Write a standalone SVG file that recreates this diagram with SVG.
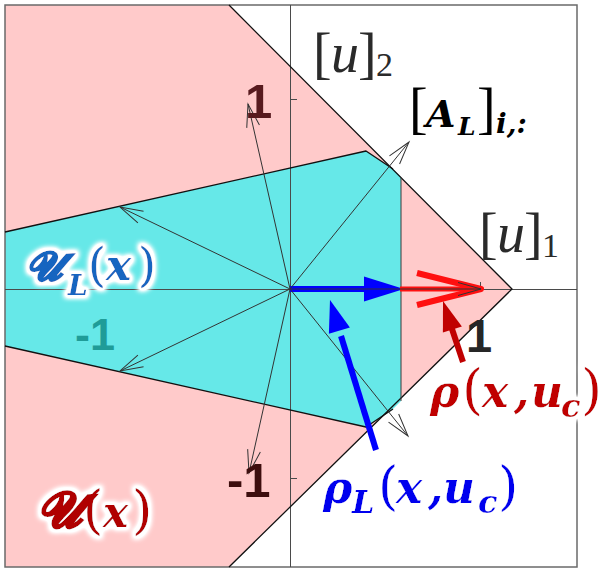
<svg xmlns="http://www.w3.org/2000/svg" width="603" height="574" viewBox="0 0 603 574">
<defs>
<style>
.thin{stroke:#333;stroke-width:1;fill:none}
.edge{stroke:#111;stroke-width:1.3;fill:none;stroke-linejoin:round}
.ax{stroke:#4a4a4a;stroke-width:1;fill:none}
.tick{font-family:"Liberation Sans",Arial,sans-serif;font-weight:bold}
.math{font-family:"DejaVu Serif","Liberation Serif",serif;font-weight:bold;font-style:italic}
.up{font-style:normal;font-weight:normal}
.cm{font-family:"Liberation Serif","DejaVu Serif",serif}
</style>
<marker id="open" markerUnits="userSpaceOnUse" markerWidth="30" markerHeight="20" viewBox="-26 -10 30 20" refX="0" refY="0" orient="auto">
<path d="M-23,-6.5 L0,0 L-23,6.5" fill="none" stroke="#333" stroke-width="1"/>
</marker>
<filter id="glow" x="-20%" y="-40%" width="140%" height="180%">
<feMorphology in="SourceAlpha" operator="dilate" radius="2.5" result="d"/>
<feGaussianBlur in="d" stdDeviation="2.5" result="b"/>
<feComponentTransfer in="b" result="b2"><feFuncA type="linear" slope="1.8"/></feComponentTransfer>
<feFlood flood-color="#ffffff"/>
<feComposite in2="b2" operator="in" result="w"/>
<feMerge><feMergeNode in="w"/><feMergeNode in="SourceGraphic"/></feMerge>
</filter>
</defs>
<rect x="0" y="0" width="603" height="574" fill="#fff"/>
<g id="region-U">
<polygon points="5,5 229,5 512,289 229,567 5,567" fill="#ffcaca"/>
</g>
<g id="region-UL">
<polygon points="5,232 366,151 393,169 401,177 401,401 393,409 366,427 5,346" fill="#66e8e8"/>
</g>
<g id="axes">
<rect x="5" y="5" width="572" height="562" fill="none" stroke="#6a6a6a" stroke-width="1.5"/>
<line class="ax" x1="290.5" y1="5" x2="290.5" y2="567"/>
<line class="ax" x1="5" y1="289.5" x2="577" y2="289.5"/>
<line class="ax" x1="290" y1="99.5" x2="297" y2="99.5"/>
<line class="ax" x1="290" y1="478.5" x2="297" y2="478.5"/>
<line class="ax" x1="100.5" y1="289" x2="100.5" y2="282"/>
<line class="ax" x1="480.5" y1="289" x2="480.5" y2="282"/>
</g>
<g id="edges">
<polyline class="edge" points="229,5 512,289 229,567"/>
<polyline class="edge" points="5,232 366,151 393,169"/>
<polyline class="edge" points="5,346 366,427 393,409"/>
<line x1="401" y1="177" x2="401" y2="401" stroke="#3a3a3a" stroke-width="1"/>
</g>
<g id="connectors">
<g id="thick-arrows">
<line x1="290" y1="289" x2="368" y2="289" stroke="#0000ff" stroke-width="6"/>
<polygon points="404,289 364,276.5 364,301.5" fill="#0000ff"/>
<line x1="400" y1="289" x2="478" y2="289" stroke="#ff1010" stroke-width="5"/>
<polyline points="417,273 481,289 417,305" fill="none" stroke="#ff1010" stroke-width="6" stroke-linejoin="round"/>
</g>
<g id="rows">
<line class="thin" x1="290" y1="289" x2="248" y2="104" marker-end="url(#open)"/>
<line class="thin" x1="290" y1="289" x2="409" y2="142" marker-end="url(#open)"/>
<line class="thin" x1="290" y1="289" x2="120" y2="207" marker-end="url(#open)"/>
<line class="thin" x1="290" y1="289" x2="481" y2="289" marker-end="url(#open)"/>
<line class="thin" x1="290" y1="289" x2="120" y2="371" marker-end="url(#open)"/>
<line class="thin" x1="290" y1="289" x2="249" y2="473" marker-end="url(#open)"/>
<line class="thin" x1="290" y1="289" x2="408" y2="436" marker-end="url(#open)"/>
</g>
<g id="pointer-rhoL">
<line x1="376" y1="450" x2="341" y2="336" stroke="#0000ff" stroke-width="6"/>
<polygon points="330,300 349.9,327.4 328.9,333.8" fill="#0000ff"/>
</g>
<g id="pointer-rho">
<line x1="463" y1="362" x2="451" y2="326" stroke="#c00000" stroke-width="6"/>
<polygon points="443,301 461.9,326.4 442.9,332.6" fill="#c00000"/>
</g>
</g>
<g id="tick-labels" class="tick">
<text x="245" y="118" font-size="49" fill="#581a1e">1</text>
<text x="227" y="497" font-size="49" fill="#3d0e0e">-1</text>
<text x="75" y="350" font-size="45" fill="#1f9c98">-1</text>
<text x="466" y="352" font-size="47" fill="#262626">1</text>
</g>
<g id="label-u2">
<text class="cm" fill="#2a2a2a" font-size="56"><tspan x="313" y="72">[</tspan><tspan x="331" y="72" font-style="italic">u</tspan><tspan x="358" y="72">]</tspan><tspan x="376" y="76" font-size="34">2</tspan></text>
</g>
<g id="label-u1">
<text class="cm" fill="#2a2a2a" font-size="56"><tspan x="479" y="252">[</tspan><tspan x="497" y="252" font-style="italic">u</tspan><tspan x="524" y="252">]</tspan><tspan x="542" y="257" font-size="34">1</tspan></text>
</g>
<g id="label-AL">
<text fill="#000"><tspan class="cm" x="409" y="127" font-size="56">[</tspan><tspan class="math" x="426" y="127" font-size="38">A</tspan><tspan class="math" x="458" y="135" font-size="25">L</tspan><tspan class="cm" x="477" y="127" font-size="56">]</tspan><tspan class="math" x="496" y="133" font-size="28">i,:</tspan></text>
</g>
<g id="label-UL" filter="url(#glow)">
<text class="math" fill="#1565c0"><tspan x="26" y="280" font-size="40" stroke="#1565c0" stroke-width="1.5">𝓤</tspan><tspan x="68" y="295" font-size="28">L</tspan><tspan class="up" x="88" y="281" font-size="46">(</tspan><tspan x="106" y="280" font-size="42">x</tspan><tspan class="up" x="138" y="281" font-size="46">)</tspan></text>
</g>
<g id="label-U" filter="url(#glow)">
<text class="math" fill="#b00000"><tspan x="37" y="527" font-size="50" stroke="#b00000" stroke-width="1.5">𝓤</tspan><tspan class="up" x="83" y="528" font-size="52">(</tspan><tspan x="103" y="527" font-size="42">x</tspan><tspan class="up" x="132" y="528" font-size="52">)</tspan></text>
</g>
<g id="label-rho" filter="url(#glow)">
<text class="math" fill="#c00000" font-size="44"><tspan x="430" y="407">ρ</tspan><tspan class="up" x="462" y="408" font-size="54">(</tspan><tspan x="482" y="407">x</tspan><tspan x="514" y="407">,</tspan><tspan x="531" y="407">u</tspan><tspan x="561" y="417" font-size="32">c</tspan><tspan class="up" x="581" y="408" font-size="54">)</tspan></text>
</g>
<g id="label-rhoL" filter="url(#glow)">
<text class="math" fill="#0000ee" font-size="44"><tspan x="323" y="503">ρ</tspan><tspan x="352" y="513" font-size="32">L</tspan><tspan class="up" x="378" y="504" font-size="52">(</tspan><tspan x="396" y="503">x</tspan><tspan x="428" y="503">,</tspan><tspan x="443" y="503">u</tspan><tspan x="478" y="513" font-size="32">c</tspan><tspan class="up" x="498" y="504" font-size="52">)</tspan></text>
</g>
</svg>
